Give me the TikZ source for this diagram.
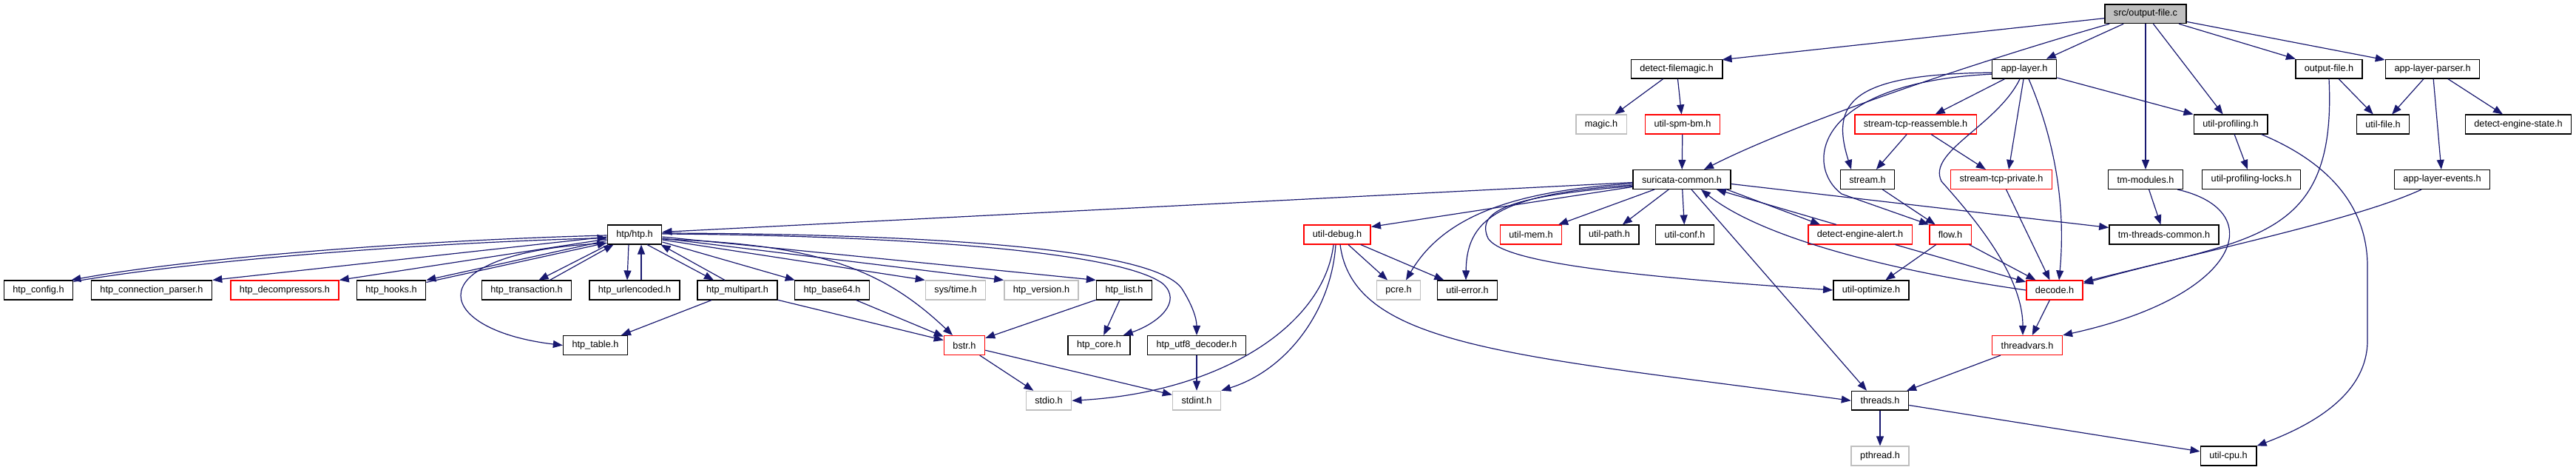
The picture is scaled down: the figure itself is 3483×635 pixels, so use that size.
\documentclass[tikz,border=0pt]{standalone}
\usepackage{fontspec}
\setmainfont{Liberation Sans}
\usetikzlibrary{arrows.meta,calc}
\definecolor{edgeblue}{HTML}{191970}
\definecolor{boxgray}{HTML}{BFBFBF}

\begin{document}
\begin{tikzpicture}[
  x=0.5pt, y=-0.5pt,
  hdr/.style    ={draw=black, line width=0.75pt, inner xsep=6pt, inner ysep=0pt,
                  minimum height=12.8pt, font=\fontsize{6.35pt}{7.6pt}\selectfont},
  hdrred/.style ={hdr, draw=red},
  hdrgray/.style={hdr, draw=boxgray},
  srcfile/.style={hdr, fill=boxgray},
  arr/.style    ={-{Triangle[length=6.5pt,width=5pt]}, edgeblue, line width=0.6pt}
]
\useasboundingbox (0,0) rectangle (3483,635);

\node[srcfile] (src) at (2901,18.7) {src/output-file.c};

\node[hdr] (filemagic) at (2267,93.2) {detect-filemagic.h};
\node[hdr] (applayer)  at (2737,93.2) {app-layer.h};
\node[hdr] (outfile)   at (3149,93.2) {output-file.h};
\node[hdr] (alparser)  at (3289,93.2) {app-layer-parser.h};

\node[hdrgray] (magic)      at (2165,168) {magic.h};
\node[hdrred]  (spmbm)      at (2275,168) {util-spm-bm.h};
\node[hdrred]  (reassemble) at (2590,168) {stream-tcp-reassemble.h};
\node[hdr]     (profiling)  at (3016,168) {util-profiling.h};
\node[hdr]     (utilfile)   at (3222,168) {util-file.h};
\node[hdr]     (enginestate) at (3405,168) {detect-engine-state.h};

\node[hdr]    (suricata)   at (2274,242.5) {suricata-common.h};
\node[hdr]    (stream)     at (2525,242.5) {stream.h};
\node[hdrred] (tcpprivate) at (2706,242.5) {stream-tcp-private.h};
\node[hdr]    (tmmodules)  at (2901,242.5) {tm-modules.h};
\node[hdr]    (proflocks)  at (3044,242.5) {util-profiling-locks.h};
\node[hdr]    (alevents)   at (3302,242.5) {app-layer-events.h};

\node[hdr]    (htp)       at (858,317)  {htp/htp.h};
\node[hdrred] (debug)     at (1808,317) {util-debug.h};
\node[hdrred] (mem)       at (2070,317) {util-mem.h};
\node[hdr]    (path)      at (2176,317) {util-path.h};
\node[hdr]    (conf)      at (2278,317) {util-conf.h};
\node[hdrred] (alert)     at (2515,317) {detect-engine-alert.h};
\node[hdrred] (flow)      at (2637,317) {flow.h};
\node[hdr]    (tmthreads) at (2926,317) {tm-threads-common.h};

\node[hdr]     (config)      at (52,392)   {htp\_config.h};
\node[hdr]     (connparser)  at (205,392)  {htp\_connection\_parser.h};
\node[hdrred]  (decomp)      at (385,392)  {htp\_decompressors.h};
\node[hdr]     (hooks)       at (529,392)  {htp\_hooks.h};
\node[hdr]     (transaction) at (712,392)  {htp\_transaction.h};
\node[hdr]     (urlenc)      at (858,392)  {htp\_urlencoded.h};
\node[hdr]     (multipart)   at (997,392)  {htp\_multipart.h};
\node[hdr]     (base64)      at (1125,392) {htp\_base64.h};
\node[hdrgray] (systime)     at (1292,392) {sys/time.h};
\node[hdrgray] (version)     at (1408,392) {htp\_version.h};
\node[hdr]     (list)        at (1520,392) {htp\_list.h};
\node[hdrgray] (pcre)        at (1891,392) {pcre.h};
\node[hdr]     (error)       at (1984,392) {util-error.h};
\node[hdr]     (optimize)    at (2530,392) {util-optimize.h};
\node[hdrred]  (decode)      at (2778,392) {decode.h};

\node[hdr]    (table)      at (805,466.5)  {htp\_table.h};
\node[hdrred] (bstr)       at (1304,466.5) {bstr.h};
\node[hdr]    (core)       at (1486,466.5) {htp\_core.h};
\node[hdr]    (utf8)       at (1618,466.5) {htp\_utf8\_decoder.h};
\node[hdrred] (threadvars) at (2741,466.5) {threadvars.h};

\node[hdrgray] (stdio)   at (1418,541.3) {stdio.h};
\node[hdrgray] (stdint)  at (1618,541.3) {stdint.h};
\node[hdr]     (threads) at (2542,541.3) {threads.h};

\node[hdrgray] (pthread) at (2542,616) {pthread.h};
\node[hdr]     (cpu)     at (3013,616) {util-cpu.h};

\draw[arr] ($(src.west)+(0,6)$) -- ($(filemagic.north east)+(-1,1)$);
\draw[arr] ($(src.south west)+(7,0)$) .. controls (2650,90) and (2420,170) .. ($(suricata.north)+(30,0)$);
\draw[arr] (src) -- (applayer);
\draw[arr] (src) -- (tmmodules);
\draw[arr] (src) -- (profiling);
\draw[arr] (src) -- (outfile);
\draw[arr] (src) -- (alparser);

\draw[arr] (filemagic) -- (magic);
\draw[arr] (filemagic) -- (spmbm);
\draw[arr] (spmbm) -- (suricata);

\draw[arr] (applayer) -- (reassemble);
\draw[arr] (applayer) -- (profiling);
\draw[arr] ($(applayer.west)+(0,5)$) .. controls (2500,100) and (2475,140) .. ($(stream.north)+(-22,0)$);
\draw[arr] ($(applayer.west)+(0,7)$) .. controls (2450,112) and (2440,225) .. (2490,262) -- (flow.north west);
\draw[arr] ($(applayer.south)+(-1,0)$) -- ($(tcpprivate.north)+(10,0)$);
\draw[arr] ($(applayer.south)+(-6,0)$) .. controls (2700,170) and (2605,205) .. (2625,245)
           .. controls (2665,290) and (2735,370) .. ($(threadvars.north)+(-6,0)$);
\draw[arr] ($(applayer.south)+(6,0)$) .. controls (2770,170) and (2795,260) .. ($(decode.north)+(6,0)$);

\draw[arr] (outfile) -- (utilfile);
\draw[arr] (outfile.south) .. controls (3160,330) and (3040,320) .. ($(decode.east)+(0,-9)$);
\draw[arr] (alparser) -- (utilfile);
\draw[arr] (alparser) -- (enginestate);
\draw[arr] (alparser) -- (alevents);
\draw[arr] ($(alevents.south)+(-28,0)$) .. controls (3190,295) and (3000,335) .. ($(decode.east)+(0,-11)$);

\draw[arr] (reassemble) -- (stream);
\draw[arr] (reassemble) -- (tcpprivate);
\draw[arr] (profiling) -- (proflocks);
\draw[arr] ($(profiling.south east)+(-9,0)$) .. controls (3150,220) and (3201,280) .. (3201,360)
           -- (3201,460) .. controls (3201,540) and (3110,580) .. (cpu.north east);

\draw[arr] (stream) -- (flow);
\draw[arr] (tcpprivate) -- (decode);
\draw[arr] (tmmodules) -- (tmthreads);
\draw[arr] ($(tmmodules.south east)+(-8,0)$) .. controls (3070,285) and (3030,400) .. (threadvars.north east);

\draw[arr] ($(suricata.west)+(0,4)$) -- ($(htp.east)+(0,-3.5)$);
\draw[arr] ($(suricata.west)+(0,10)$) -- ($(debug.north east)+(0,3)$);
\draw[arr] (suricata) -- (mem);
\draw[arr] (suricata) -- (path);
\draw[arr] (suricata) -- (conf);
\draw[arr] ($(suricata.south east)+(-6,0)$) -- ($(alert.north west)+(17,0)$);
\draw[arr] ($(alert.north west)+(39,0)$) -- ($(suricata.south east)+(-20,0)$);
\draw[arr] ($(suricata.south)+(13,0)$) -- ($(threads.north)+(-18,0)$);
\draw[arr] ($(suricata.east)+(0,6)$) -- ($(tmthreads.north west)+(0,4)$);
\draw[arr] ($(suricata.west)+(0,5.5)$) .. controls (2040,258) and (1950,295) .. ($(pcre.north)+(10,0)$);
\draw[arr] ($(suricata.west)+(0,7.5)$) .. controls (2020,262) and (1983,300) .. ($(error.north)+(-2,0)$);
\draw[arr] ($(suricata.west)+(0,9)$) .. controls (2040,265) and (1995,285) .. (2012,322)
           .. controls (2030,350) and (2150,370) .. (optimize.west);

\draw[arr] (debug) -- (pcre);
\draw[arr] (debug) -- (error);
\draw[arr] ($(debug.south)+(-2,0)$) .. controls (1800,420) and (1740,500) .. (stdint.north east);
\draw[arr] ($(debug.south)+(-5,0)$) .. controls (1790,440) and (1650,530) .. (stdio.east);
\draw[arr] ($(debug.south)+(4,0)$) .. controls (1830,470) and (2050,480) .. (threads.west);

\draw[arr] ($(htp.west)+(0,1)$) .. controls (550,325) and (250,350) .. ($(config.north east)+(-3,0)$);
\draw[arr] ($(config.north east)+(0,2)$) .. controls (250,354) and (550,329) .. ($(htp.west)+(0,4.5)$);
\draw[arr] ($(htp.west)+(0,3)$) -- (connparser.north east);
\draw[arr] ($(htp.west)+(0,6)$) -- (decomp.north east);
\draw[arr] ($(htp.west)+(0,8)$) -- (hooks.north east);
\draw[arr] ($(hooks.north east)+(0,3)$) -- ($(htp.west)+(0,11)$);
\draw[arr] ($(htp.south west)+(2,0)$) -- ($(transaction.north east)+(-45,0)$);
\draw[arr] ($(transaction.north east)+(-30,0)$) -- ($(htp.south west)+(9,0)$);
\draw[arr] ($(htp.south)+(-8,0)$) -- ($(urlenc.north)+(-10,0)$);
\draw[arr] ($(urlenc.north)+(9,0)$) -- ($(htp.south)+(9,0)$);
\draw[arr] ($(htp.south)+(17,0)$) -- ($(multipart.north)+(-32,0)$);
\draw[arr] ($(multipart.north)+(-17,0)$) -- ($(htp.south east)+(-2,0)$);
\draw[arr] ($(htp.south west)+(0,-2)$) .. controls (560,340) and (580,445) .. (table.west);
\draw[arr] ($(htp.east)+(0,10)$) -- ($(base64.north west)+(1,0)$);
\draw[arr] ($(htp.east)+(0,7)$) -- (systime.north west);
\draw[arr] ($(htp.east)+(0,5)$) -- (version.north west);
\draw[arr] ($(htp.east)+(0,3)$) -- (list.north west);
\draw[arr] ($(htp.east)+(0,6)$) .. controls (1100,330) and (1190,360) .. ($(bstr.north)+(-16,0)$);
\draw[arr] ($(htp.east)+(0,-1)$) .. controls (1200,318) and (1510,338) .. (1572,383)
           .. controls (1600,408) and (1565,437) .. ($(core.north east)+(-10,0)$);
\draw[arr] ($(htp.east)+(0,-2)$) .. controls (1250,316) and (1560,335) .. (1598,390)
           .. controls (1612,412) and (1618,430) .. (utf8.north);

\draw[arr] (multipart) -- (table);
\draw[arr] (multipart) -- (bstr);
\draw[arr] (base64) -- (bstr);
\draw[arr] (list) -- (bstr);
\draw[arr] (list) -- (core);
\draw[arr] (utf8) -- (stdint);
\draw[arr] (bstr) -- (stdio);
\draw[arr] (bstr) -- (stdint);

\draw[arr] (flow) -- (optimize);
\draw[arr] (flow) -- (decode);
\draw[arr] (alert) -- (decode);
\draw[arr] (decode.west) .. controls (2550,365) and (2380,320) .. ($(suricata.south)+(26,0)$);
\draw[arr] (decode) -- (threadvars);
\draw[arr] (threadvars) -- (threads);
\draw[arr] (threads) -- (pthread);
\draw[arr] (threads) -- (cpu);
\end{tikzpicture}
\end{document}
